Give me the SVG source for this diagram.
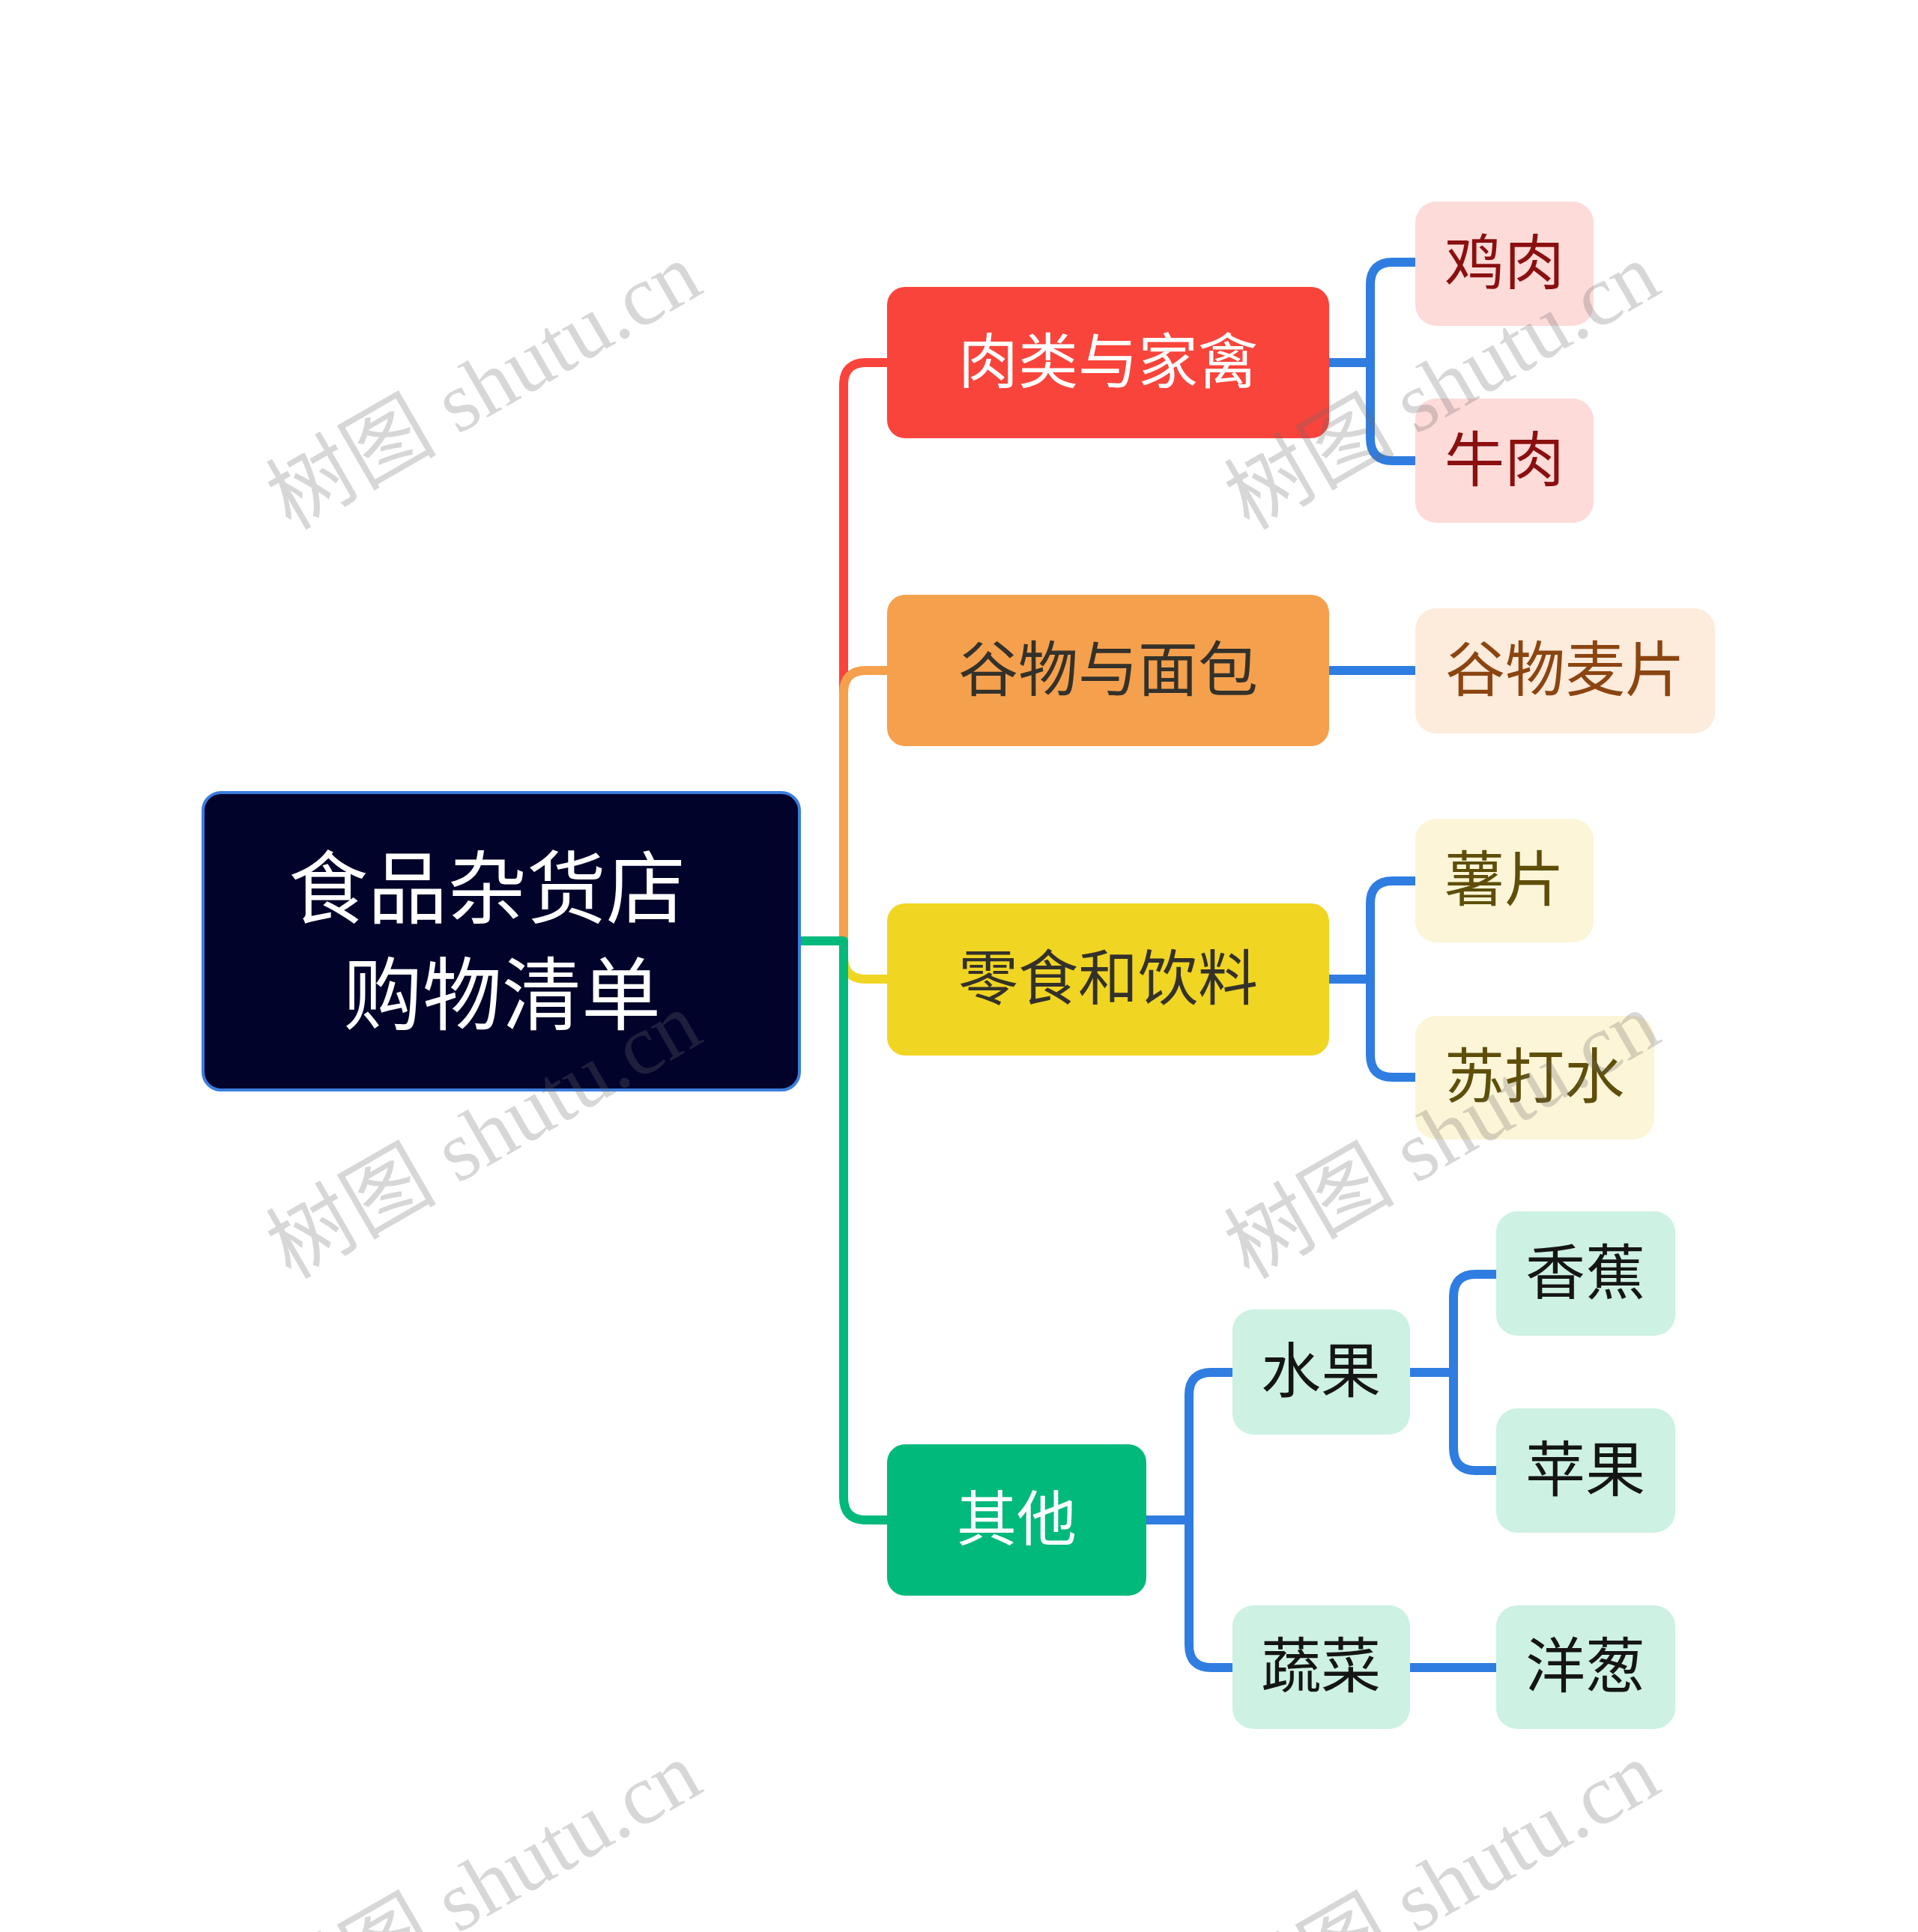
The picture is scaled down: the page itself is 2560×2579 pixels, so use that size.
<svg xmlns="http://www.w3.org/2000/svg" width="2560" height="2579" viewBox="0 0 2560 2579">
<style>
.t{font-family:"Noto Sans CJK SC","Noto Sans",sans-serif;font-size:80px;text-anchor:middle}
.root{font-size:106px;fill:#ffffff}
.c{fill:none;stroke-width:12;stroke-linejoin:round}
.b{stroke:#2f7de1}
.wm{font-family:"Liberation Serif","Noto Sans CJK SC",serif;font-size:114px;fill:#6b6b6b;fill-opacity:0.27;text-anchor:middle}
</style>
<rect width="2560" height="2579" fill="#ffffff"/>
<g id="connectors">
<path class="c" stroke="#f9443c" d="M1067,1256 H1126 V514 Q1126,484 1156,484 H1184"/>
<path class="c" stroke="#f5a04d" d="M1067,1256 H1126 V925 Q1126,895 1156,895 H1184"/>
<path class="c" stroke="#f0d523" d="M1067,1256 H1126 V1277 Q1126,1307 1156,1307 H1184"/>
<path class="c" stroke="#00b97a" d="M1067,1256 H1126 V1999 Q1126,2029 1156,2029 H1184"/>
<path class="c b" d="M1774,484 H1829 V380 Q1829,350 1859,350 H1889"/>
<path class="c b" d="M1774,484 H1829 V585 Q1829,615 1859,615 H1889"/>
<path class="c b" d="M1774,895 H1889"/>
<path class="c b" d="M1774,1307 H1829 V1206 Q1829,1176 1859,1176 H1889"/>
<path class="c b" d="M1774,1307 H1829 V1408 Q1829,1438 1859,1438 H1889"/>
<path class="c b" d="M1530,2029 H1587 V1862 Q1587,1832 1617,1832 H1645"/>
<path class="c b" d="M1530,2029 H1587 V2196 Q1587,2226 1617,2226 H1645"/>
<path class="c b" d="M1882,1832 H1940 V1731 Q1940,1701 1970,1701 H1997"/>
<path class="c b" d="M1882,1832 H1940 V1933 Q1940,1963 1970,1963 H1997"/>
<path class="c b" d="M1882,2226 H1997"/>
</g>
<g id="root">
<rect x="271" y="1058" width="796" height="397" rx="24" fill="#02032b" stroke="#3b7ddd" stroke-width="4"/>
<text class="t root" x="650" y="1224">食品杂货店</text>
<text class="t root" x="670" y="1366">购物清单</text>
</g>
<g id="n-meat">
<rect x="1184" y="383" width="590" height="202" rx="24" fill="#f9443c"/>
<text class="t" x="1479" y="511" fill="#ffffff">肉类与家禽</text>
</g>
<g id="n-grain">
<rect x="1184" y="794" width="590" height="202" rx="24" fill="#f5a04d"/>
<text class="t" x="1479" y="922" fill="#33312a">谷物与面包</text>
</g>
<g id="n-snack">
<rect x="1184" y="1206" width="590" height="203" rx="24" fill="#f0d523"/>
<text class="t" x="1479" y="1334" fill="#33312a">零食和饮料</text>
</g>
<g id="n-other">
<rect x="1184" y="1928" width="346" height="202" rx="24" fill="#00b97a"/>
<text class="t" x="1357" y="2056" fill="#ffffff">其他</text>
</g>
<g id="n-chicken">
<rect x="1889" y="269" width="238" height="166" rx="28" fill="#fddbd9"/>
<text class="t" x="2008" y="379" fill="#8a0f0f">鸡肉</text>
</g>
<g id="n-beef">
<rect x="1889" y="532" width="238" height="166" rx="28" fill="#fddbd9"/>
<text class="t" x="2008" y="642" fill="#8a0f0f">牛肉</text>
</g>
<g id="n-cereal">
<rect x="1889" y="812" width="400" height="167" rx="28" fill="#fdebdc"/>
<text class="t" x="2089" y="922" fill="#8b4511">谷物麦片</text>
</g>
<g id="n-chips">
<rect x="1889" y="1093" width="238" height="165" rx="28" fill="#fcf5d7"/>
<text class="t" x="2008" y="1202" fill="#5e4e0a">薯片</text>
</g>
<g id="n-soda">
<rect x="1889" y="1356" width="319" height="165" rx="28" fill="#fcf5d7"/>
<text class="t" x="2048" y="1465" fill="#5e4e0a">苏打水</text>
</g>
<g id="n-fruit">
<rect x="1645" y="1748" width="237" height="167" rx="28" fill="#cdf1e2"/>
<text class="t" x="1763" y="1858" fill="#151515">水果</text>
</g>
<g id="n-veg">
<rect x="1645" y="2143" width="237" height="165" rx="28" fill="#cdf1e2"/>
<text class="t" x="1763" y="2252" fill="#151515">蔬菜</text>
</g>
<g id="n-banana">
<rect x="1997" y="1617" width="239" height="166" rx="28" fill="#cdf1e2"/>
<text class="t" x="2116" y="1727" fill="#151515">香蕉</text>
</g>
<g id="n-apple">
<rect x="1997" y="1880" width="239" height="166" rx="28" fill="#cdf1e2"/>
<text class="t" x="2116" y="1990" fill="#151515">苹果</text>
</g>
<g id="n-onion">
<rect x="1997" y="2143" width="239" height="165" rx="28" fill="#cdf1e2"/>
<text class="t" x="2116" y="2252" fill="#151515">洋葱</text>
</g>
<g id="watermarks">
<text class="wm" transform="translate(646,516) rotate(-30)" y="38">树图 shutu.cn</text>
<text class="wm" transform="translate(1925,516) rotate(-30)" y="38">树图 shutu.cn</text>
<text class="wm" transform="translate(646,1516) rotate(-30)" y="38">树图 shutu.cn</text>
<text class="wm" transform="translate(1925,1516) rotate(-30)" y="38">树图 shutu.cn</text>
<text class="wm" transform="translate(646,2517) rotate(-30)" y="38">树图 shutu.cn</text>
<text class="wm" transform="translate(1925,2517) rotate(-30)" y="38">树图 shutu.cn</text>
</g>
</svg>
